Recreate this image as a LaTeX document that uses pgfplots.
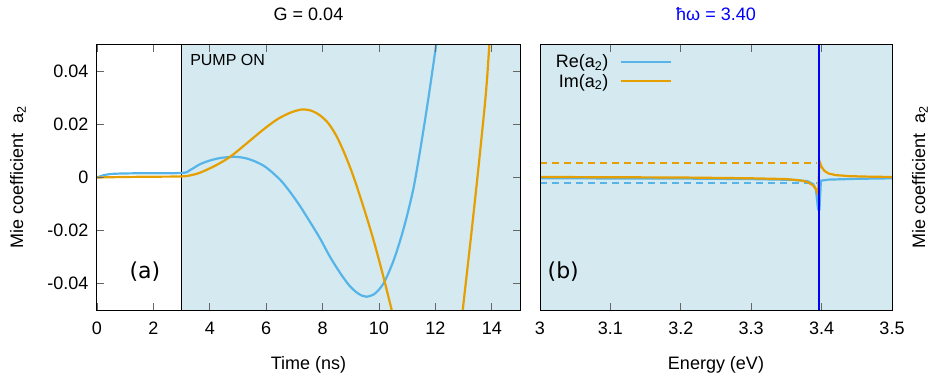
\documentclass[border=0pt]{standalone}
\usepackage{pgfplots}
\pgfplotsset{compat=1.18}
\usepackage{fontspec}
\setmainfont{Liberation Sans}
\newfontfamily\dejavu{DejaVu Sans}
\definecolor{cblue}{HTML}{56B4E9}
\definecolor{corange}{HTML}{E69F00}
\definecolor{shade}{HTML}{D4EAF0}
\definecolor{vblue}{HTML}{0000FF}
\pgfplotsset{
  myaxis/.style={
    anchor=south west, scale only axis, height=265pt,
    ymin=-0.05, ymax=0.05, axis on top, clip mode=individual,
    axis line style={black, line width=1pt},
    tick style={black!60, line width=0.9pt},
    major tick length=7pt,
    tick align=inside,
    scaled y ticks=false, scaled x ticks=false,
    /pgf/number format/assume math mode=true,
    tick label style={font=\fontsize{18}{20}\selectfont},
    label style={font=\fontsize{18}{20}\selectfont},
    xticklabel style={anchor=center, yshift=-18pt},
    yticklabel style={anchor=east, xshift=-5pt},
  }
}
\begin{document}
\begin{tikzpicture}
\useasboundingbox (0pt,0pt) rectangle (932pt,378pt);
% ---------------- left panel ----------------
\begin{axis}[myaxis, at={(97pt,68pt)}, width=423pt,
  xmin=0, xmax=15,
  xtick={0,2,4,6,8,10,12,14},
  xticklabels={0,2,4,6,8,10,12,14},
  ytick={-0.04,-0.02,0,0.02,0.04},
  yticklabels={-0.04,-0.02,0,0.02,0.04},
  xlabel={Time (ns)},
  xlabel style={at={(axis description cs:0.5,-0.2075)}, anchor=center},
  ylabel={Mie coefficient\ \ a\textsubscript{2}},
  ylabel style={at={(axis description cs:-0.1868,0.5)}, anchor=center},
]
\addplot[fill=shade, draw=none, forget plot] coordinates {(3,-0.05) (15,-0.05) (15,0.05) (3,0.05)} \closedcycle;
\addplot[black, line width=1pt, forget plot] coordinates {(3,-0.05) (3,0.05)};
% Re(a2)
\addplot[cblue, line width=2.2pt, smooth] coordinates {
(0,0) (0.25,0.0009) (0.6,0.0014) (1.5,0.0016) (3,0.0017)
(3.3,0.0028) (3.65,0.0050) (4.0,0.0064) (4.4,0.0074) (4.9,0.0078)
(5.3,0.0072) (5.66,0.0058) (6.0,0.0038) (6.49,-0.0008) (6.85,-0.0055)
(7.2,-0.0108) (7.55,-0.0167) (7.91,-0.0230) (8.25,-0.0297) (8.62,-0.0360)
(8.95,-0.0408) (9.21,-0.0434) (9.4,-0.0446) (9.56,-0.0450) (9.8,-0.0442)
(10.0,-0.0423) (10.21,-0.0390) (10.5,-0.0318) (10.75,-0.0238) (10.98,-0.0150)
(11.22,-0.0042) (11.4,0.0065) (11.57,0.0175) (11.75,0.0298) (11.87,0.0385)
(12.02,0.0495) (12.15,0.0590)
};
% Im(a2)
\addplot[corange, line width=2.2pt, smooth] coordinates {
(0,0) (1,0.0002) (2,0.0003) (3,0.0004)
(3.3,0.0008) (3.65,0.0018) (4.2,0.0045) (4.72,0.0078) (5.3,0.0128)
(5.9,0.0181) (6.4,0.0220) (6.84,0.0244) (7.1,0.0253) (7.3,0.0257)
(7.6,0.0252) (7.9,0.0235) (8.2,0.0205) (8.5,0.0155)
(8.8,0.0085) (9.09,0.0005) (9.44,-0.0108) (9.8,-0.0234) (10.15,-0.0372)
(10.45,-0.0500) (10.6,-0.0565)
};
\addplot[corange, line width=2.2pt, smooth] coordinates {
(12.85,-0.0620) (12.97,-0.0500) (13.25,-0.0235) (13.5,0.0010)
(13.74,0.0260) (13.83,0.0370) (13.91,0.0495) (14.0,0.0630)
};
\node[font=\fontsize{16}{18}\selectfont, anchor=west, inner sep=0pt] at (axis cs:3.30,0.0443) {PUMP ON};
\node[font=\dejavu\fontsize{22}{24}\selectfont, inner sep=0pt] at (axis cs:1.7,-0.0355) {(a)};
\node[font=\fontsize{18}{20}\selectfont] at (axis description cs:0.5,1.117) {G = 0.04};
\end{axis}
% ---------------- right panel ----------------
\begin{axis}[myaxis, at={(540pt,68pt)}, width=352pt,
  xmin=3, xmax=3.5,
  xtick={3,3.1,3.2,3.3,3.4,3.5},
  xticklabels={3,3.1,3.2,3.3,3.4,3.5},
  ytick=\empty,
  axis background/.style={fill=shade},
  xlabel={Energy (eV)},
  xlabel style={at={(axis description cs:0.5,-0.2075)}, anchor=center},
  ylabel={Mie coefficient\ \ a\textsubscript{2}},
  ylabel style={at={(axis description cs:1.0795,0.5)}, anchor=center},
  legend plot pos=right,
  legend cell align=right,
  legend image code/.code={\draw[#1, line width=2.2pt] (0pt,0pt) -- (50pt,0pt);},
  legend style={at={(axis description cs:0.374,0.964)}, anchor=north east,
    draw=none, fill=none, inner sep=0pt, outer sep=0pt,
    font=\fontsize{18}{20}\selectfont,
    nodes={inner sep=0pt}, column sep=11pt, row sep=5pt},
]
\addplot[draw=corange, line width=2pt, dash pattern=on 7pt off 5pt, forget plot] coordinates {(3,0.0053) (3.393,0.0053)};
\addplot[draw=cblue, line width=2pt, dash pattern=on 7pt off 5pt, forget plot] coordinates {(3,-0.0019) (3.393,-0.0019)};
\addplot[cblue, line width=2.2pt] coordinates {
(3.0,-0.0003) (3.2,-0.0004) (3.3,-0.0006) (3.36,-0.0009) (3.38,-0.0014)
(3.388,-0.0025) (3.392,-0.0045) (3.395,-0.0120) (3.397,-0.0120)
(3.399,-0.0012) (3.41,-0.0008) (3.45,-0.0005) (3.5,-0.0003)
};
\addlegendentry{Re(a\textsubscript{2})}
\addplot[corange, line width=2.2pt] coordinates {
(3.0,0.0002) (3.1,0.0001) (3.2,0.0000) (3.3,-0.0003) (3.35,-0.0006)
(3.37,-0.0011) (3.38,-0.0017) (3.388,-0.0030) (3.392,-0.0045) (3.395,-0.0062)
(3.397,0.0062) (3.400,0.0040) (3.404,0.0025) (3.41,0.0015) (3.42,0.0009)
(3.44,0.0005) (3.47,0.0003) (3.5,0.0002)
};
\addlegendentry{Im(a\textsubscript{2})}
\addplot[draw=vblue, line width=2pt, forget plot] coordinates {(3.397,-0.05) (3.397,0.05)};
\node[font=\dejavu\fontsize{22}{24}\selectfont, inner sep=0pt] at (axis cs:3.033,-0.0355) {(b)};
\node[font=\fontsize{18}{20}\selectfont, text=vblue] at (axis description cs:0.5,1.117) {ħω = 3.40};
\end{axis}
\end{tikzpicture}
\end{document}
